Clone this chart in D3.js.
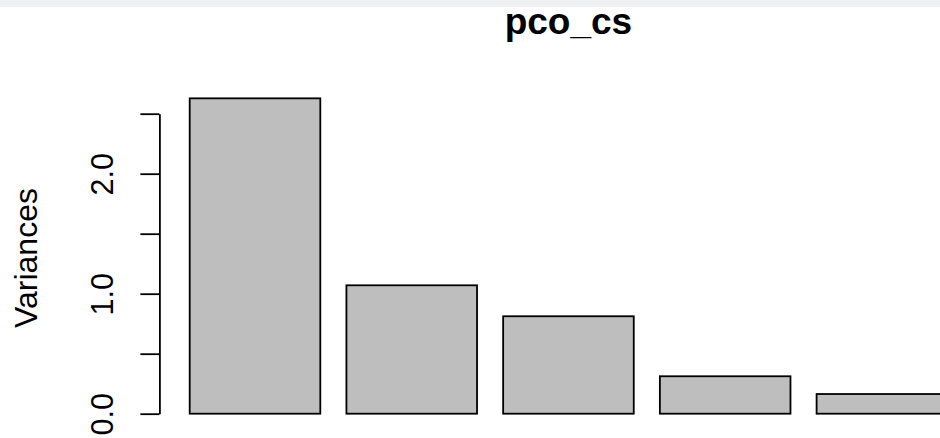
<!DOCTYPE html>
<html>
<head>
<meta charset="utf-8">
<script src="https://cdn.jsdelivr.net/npm/d3@7"></script>
<style>
  html, body { margin: 0; padding: 0; background: #ffffff; }
  svg { display: block; font-family: "Liberation Sans", Arial, Helvetica, sans-serif; }
</style>
</head>
<body>
<div id="chart"></div>
<script>
// Scree plot of the principal coordinate variances
const components = ["Comp.1", "Comp.2", "Comp.3", "Comp.4", "Comp.5"];
const variances = [2.628, 1.070, 0.812, 0.312, 0.164];
const yTicks = [0, 0.5, 1.0, 1.5, 2.0, 2.5];
const yTickLabels = ["0.0", "", "1.0", "", "2.0", ""];
const chartTitle = "pco_cs";
const yLabel = "Variances";

const W = 940, H = 438;
const svg = d3.select("#chart").append("svg")
  .attr("width", W).attr("height", H);

// thin header strip
svg.append("rect").attr("x", 0).attr("y", 0).attr("width", W).attr("height", 7)
  .attr("fill", "#eff0f2");

// barplot layout: width 1, space 0.2 between bars
const barWidth = 1, space = 0.2;
const xMin = space, xMax = components.length * (barWidth + space);
const pad = (xMax - xMin) * 0.04;
const x = d3.scaleLinear().domain([xMin - pad, xMax + pad]).range([159.4, 977.5]);
const y = d3.scaleLinear().domain([0, 2.5]).range([413.7, 113.7]);

svg.append("g").selectAll("rect")
  .data(variances)
  .join("rect")
  .attr("x", (d, i) => x(space + i * (barWidth + space)))
  .attr("width", (d, i) => x(barWidth) - x(0))
  .attr("y", d => y(d))
  .attr("height", d => y(0) - y(d))
  .attr("fill", "#bebebe")
  .attr("stroke", "#000")
  .attr("stroke-width", 1.8);

// y axis
const axis = d3.axisLeft(y)
  .tickValues(yTicks)
  .tickSize(19)
  .tickSizeOuter(0)
  .tickPadding(0)
  .tickFormat((d, i) => yTickLabels[i]);

const gy = svg.append("g")
  .attr("transform", `translate(${x(xMin - pad)},0)`)
  .call(axis);
gy.select(".domain").attr("stroke", "#000").attr("stroke-width", 1.8);
gy.selectAll(".tick line").attr("stroke", "#000").attr("stroke-width", 1.8);
gy.selectAll(".tick text")
  .attr("transform", "rotate(-90)")
  .attr("x", 0)
  .attr("y", -46.5)
  .attr("dy", 0)
  .attr("text-anchor", "middle")
  .attr("fill", "#000")
  .style("font-size", "30.5px")
  .style("font-family", "Liberation Sans, Arial, sans-serif");

// axis title
svg.append("text")
  .attr("transform", `translate(37,258) rotate(-90)`)
  .attr("text-anchor", "middle")
  .style("font-size", "32px")
  .attr("fill", "#000")
  .text(yLabel);

// main title
svg.append("text")
  .attr("x", (x.range()[0] + x.range()[1]) / 2)
  .attr("y", 34)
  .attr("text-anchor", "middle")
  .style("font-size", "37px")
  .style("font-weight", "bold")
  .attr("fill", "#000")
  .text(chartTitle);
</script>
</body>
</html>
